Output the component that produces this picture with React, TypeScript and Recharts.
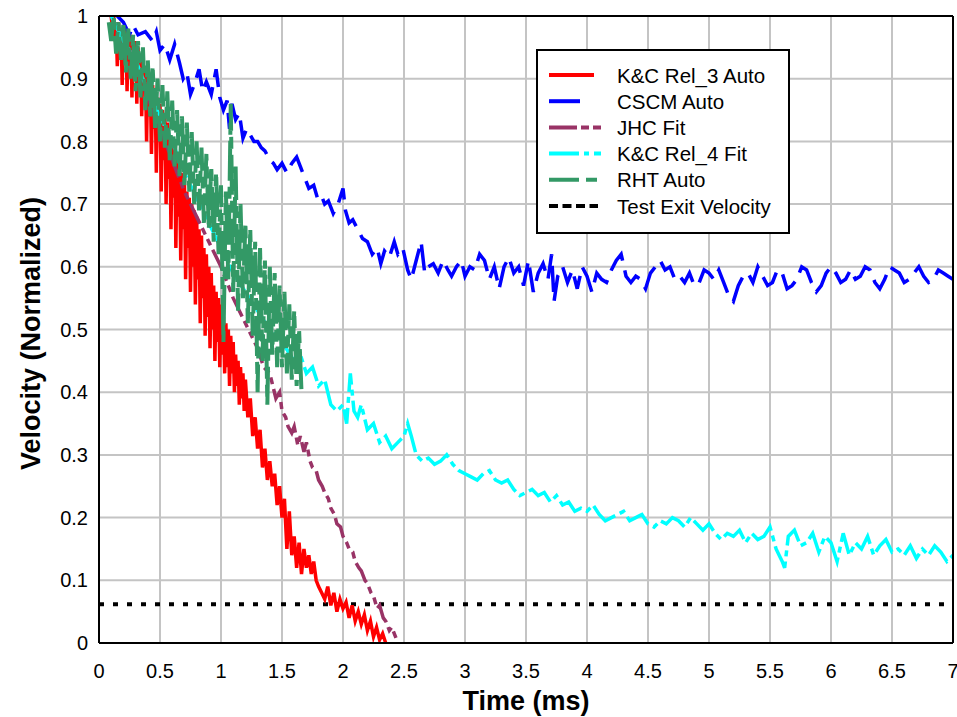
import React from 'react';
import { LineChart, Line, XAxis, YAxis, CartesianGrid, ReferenceLine, Legend } from 'recharts';

// ---------- data ----------
const kc3Time = [0.10,0.11,0.12,0.13,0.14,0.15,0.16,0.17,0.18,0.19,0.20,0.21,0.22,0.23,0.24,0.25,0.26,0.27,0.28,0.29,0.30,0.31,0.32,0.33,0.34,0.35,0.36,0.37,0.38,0.39,0.40,0.41,0.42,0.43,0.44,0.45,0.46,0.47,0.48,0.49,0.50,0.51,0.52,0.53,0.54,0.55,0.56,0.57,0.58,0.59,0.60,0.61,0.62,0.63,0.64,0.65,0.66,0.67,0.68,0.69,0.70,0.71,0.72,0.73,0.74,0.75,0.76,0.77,0.78,0.79,0.80,0.81,0.82,0.83,0.84,0.85,0.86,0.87,0.88,0.89,0.90,0.91,0.92,0.93,0.94,0.95,0.96,0.97,0.98,0.99,1.00,1.01,1.02,1.03,1.04,1.05,1.06,1.07,1.08,1.09,1.10,1.11,1.12,1.13,1.14,1.15,1.16,1.17,1.18,1.19,1.20,1.22,1.24,1.26,1.28,1.30,1.32,1.34,1.36,1.38,1.40,1.42,1.44,1.46,1.48,1.50,1.52,1.54,1.56,1.58,1.60,1.62,1.64,1.66,1.68,1.70,1.72,1.74,1.76,1.78,1.80,1.825,1.85,1.875,1.90,1.925,1.95,1.975,2.00,2.025,2.05,2.075,2.10,2.125,2.15,2.175,2.20,2.225,2.25,2.275,2.30,2.325,2.35];
const kc3Vel = [1.00,0.98,1.00,0.96,0.99,0.92,0.99,0.95,0.98,0.89,0.98,0.93,0.98,0.88,0.97,0.91,0.97,0.87,0.96,0.92,0.96,0.86,0.95,0.90,0.94,0.84,0.93,0.88,0.92,0.80,0.91,0.84,0.90,0.78,0.89,0.82,0.88,0.75,0.87,0.80,0.86,0.72,0.85,0.77,0.84,0.70,0.83,0.74,0.81,0.66,0.80,0.71,0.79,0.63,0.78,0.68,0.76,0.61,0.75,0.66,0.74,0.58,0.72,0.63,0.71,0.56,0.70,0.60,0.69,0.54,0.68,0.58,0.66,0.51,0.65,0.55,0.63,0.49,0.62,0.52,0.60,0.47,0.59,0.50,0.57,0.45,0.56,0.48,0.55,0.44,0.54,0.46,0.52,0.43,0.51,0.44,0.50,0.41,0.49,0.43,0.48,0.40,0.46,0.41,0.45,0.38,0.44,0.39,0.43,0.37,0.42,0.36,0.39,0.33,0.36,0.31,0.34,0.28,0.31,0.26,0.29,0.25,0.27,0.22,0.25,0.20,0.23,0.15,0.21,0.14,0.17,0.12,0.16,0.11,0.15,0.12,0.14,0.11,0.13,0.10,0.09,0.08,0.07,0.09,0.06,0.08,0.05,0.07,0.055,0.065,0.04,0.06,0.035,0.05,0.03,0.045,0.02,0.035,0.01,0.025,0.005,0.015,0.0];

const cscmTime = [0.15,0.20,0.25,0.28,0.32,0.38,0.44,0.47,0.50,0.54,0.58,0.62,0.66,0.69,0.72,0.75,0.78,0.82,0.85,0.88,0.92,0.96,0.99,1.02,1.05,1.07,1.09,1.12,1.15,1.18,1.21,1.24,1.27,1.30,1.33,1.36,1.40,1.43,1.46,1.50,1.54,1.58,1.62,1.65,1.68,1.72,1.76,1.79,1.82,1.85,1.88,1.92,1.96,2.00,2.02,2.05,2.08,2.12,2.16,2.20,2.24,2.28,2.31,2.34,2.38,2.42,2.45,2.49,2.53,2.56,2.60,2.64,2.67,2.70,2.74,2.78,2.82,2.86,2.89,2.93,2.97,3.00,3.04,3.08,3.12,3.16,3.20,3.24,3.28,3.32,3.36,3.40,3.44,3.48,3.52,3.56,3.60,3.64,3.68,3.71,3.73,3.76,3.80,3.84,3.88,3.92,3.96,4.00,4.04,4.08,4.12,4.16,4.20,4.24,4.28,4.32,4.36,4.40,4.44,4.48,4.52,4.56,4.60,4.64,4.68,4.72,4.76,4.80,4.84,4.88,4.92,4.96,5.00,5.04,5.08,5.12,5.16,5.20,5.24,5.28,5.32,5.36,5.40,5.44,5.48,5.52,5.56,5.60,5.64,5.68,5.72,5.76,5.80,5.84,5.88,5.92,5.96,6.00,6.04,6.08,6.12,6.16,6.20,6.24,6.28,6.32,6.36,6.40,6.44,6.48,6.52,6.56,6.60,6.64,6.68,6.72,6.76,6.80,6.84,6.88,6.92,6.96,7.00];
const cscmVel = [1.00,0.99,0.97,0.985,0.97,0.975,0.96,0.975,0.945,0.955,0.93,0.955,0.925,0.90,0.91,0.875,0.89,0.915,0.88,0.895,0.875,0.915,0.87,0.85,0.865,0.82,0.86,0.835,0.845,0.805,0.82,0.81,0.80,0.80,0.79,0.785,0.77,0.765,0.755,0.765,0.75,0.765,0.775,0.76,0.745,0.725,0.73,0.71,0.715,0.70,0.705,0.685,0.70,0.725,0.69,0.67,0.675,0.66,0.645,0.64,0.62,0.63,0.605,0.625,0.615,0.64,0.62,0.63,0.595,0.58,0.61,0.64,0.59,0.60,0.605,0.59,0.61,0.595,0.585,0.60,0.61,0.585,0.60,0.595,0.62,0.61,0.58,0.60,0.565,0.60,0.615,0.59,0.60,0.57,0.61,0.56,0.59,0.605,0.58,0.62,0.545,0.585,0.60,0.575,0.595,0.565,0.60,0.585,0.56,0.59,0.58,0.575,0.595,0.61,0.62,0.585,0.575,0.585,0.58,0.565,0.59,0.60,0.61,0.595,0.60,0.58,0.585,0.575,0.59,0.57,0.575,0.595,0.59,0.58,0.595,0.575,0.555,0.545,0.57,0.585,0.59,0.575,0.60,0.585,0.57,0.575,0.595,0.59,0.565,0.57,0.58,0.60,0.595,0.575,0.56,0.57,0.59,0.60,0.59,0.575,0.58,0.595,0.58,0.585,0.60,0.595,0.575,0.565,0.58,0.60,0.595,0.59,0.575,0.58,0.59,0.60,0.585,0.575,0.58,0.595,0.59,0.585,0.58];

const jhcTime = [0.10,0.20,0.30,0.40,0.50,0.60,0.70,0.80,0.90,1.00,1.10,1.20,1.30,1.35,1.40,1.45,1.48,1.50,1.53,1.55,1.58,1.60,1.63,1.65,1.68,1.70,1.73,1.75,1.78,1.80,1.83,1.85,1.88,1.90,1.93,1.95,1.98,2.00,2.03,2.05,2.08,2.10,2.13,2.15,2.18,2.20,2.23,2.25,2.28,2.30,2.33,2.35,2.38,2.40,2.43,2.45];
const jhcVel = [1.00,0.96,0.92,0.87,0.82,0.77,0.72,0.68,0.64,0.60,0.55,0.51,0.47,0.44,0.43,0.39,0.40,0.37,0.36,0.345,0.335,0.345,0.315,0.33,0.305,0.32,0.29,0.28,0.275,0.26,0.25,0.24,0.23,0.215,0.205,0.19,0.185,0.17,0.16,0.15,0.145,0.13,0.12,0.115,0.10,0.095,0.08,0.075,0.055,0.06,0.04,0.035,0.02,0.025,0.01,0.0];

const kc4Time = [0.10,0.20,0.30,0.40,0.50,0.60,0.70,0.80,0.90,1.00,1.10,1.20,1.30,1.40,1.50,1.60,1.65,1.70,1.75,1.80,1.85,1.90,1.95,2.00,2.03,2.06,2.09,2.12,2.15,2.20,2.25,2.30,2.35,2.40,2.45,2.50,2.53,2.56,2.60,2.65,2.70,2.75,2.80,2.85,2.90,2.95,3.00,3.05,3.10,3.15,3.20,3.25,3.30,3.35,3.40,3.45,3.50,3.55,3.60,3.65,3.70,3.75,3.80,3.85,3.90,3.95,4.00,4.05,4.10,4.15,4.20,4.25,4.30,4.35,4.40,4.45,4.50,4.55,4.60,4.65,4.70,4.75,4.80,4.85,4.90,4.95,5.00,5.05,5.10,5.15,5.20,5.25,5.30,5.35,5.40,5.45,5.50,5.55,5.60,5.62,5.65,5.70,5.75,5.80,5.85,5.90,5.95,6.00,6.05,6.10,6.15,6.20,6.25,6.30,6.35,6.40,6.45,6.50,6.55,6.60,6.65,6.70,6.75,6.80,6.85,6.90,6.95,7.00];
const kc4Vel = [1.00,0.96,0.93,0.88,0.84,0.80,0.75,0.71,0.67,0.63,0.59,0.56,0.53,0.50,0.48,0.45,0.46,0.43,0.44,0.41,0.42,0.38,0.37,0.38,0.35,0.43,0.37,0.36,0.38,0.34,0.35,0.32,0.33,0.31,0.32,0.33,0.35,0.33,0.30,0.29,0.295,0.285,0.29,0.30,0.285,0.275,0.27,0.265,0.26,0.27,0.275,0.26,0.255,0.26,0.245,0.235,0.24,0.245,0.235,0.24,0.225,0.235,0.22,0.225,0.21,0.215,0.21,0.22,0.205,0.195,0.20,0.205,0.21,0.195,0.20,0.205,0.19,0.185,0.195,0.19,0.20,0.195,0.185,0.20,0.19,0.18,0.19,0.175,0.165,0.175,0.17,0.18,0.16,0.175,0.165,0.17,0.185,0.15,0.13,0.12,0.17,0.18,0.155,0.16,0.175,0.145,0.17,0.16,0.13,0.175,0.14,0.16,0.15,0.17,0.14,0.155,0.165,0.145,0.15,0.14,0.155,0.135,0.15,0.14,0.155,0.145,0.13,0.14];

const rhtTime = [0.08,0.10,0.12,0.14,0.16,0.18,0.20,0.22,0.24,0.26,0.28,0.30,0.32,0.34,0.36,0.38,0.40,0.42,0.44,0.46,0.48,0.50,0.52,0.54,0.56,0.58,0.60,0.62,0.64,0.66,0.68,0.70,0.72,0.74,0.76,0.78,0.80,0.82,0.84,0.86,0.88,0.90,0.92,0.94,0.96,0.98,1.00,1.02,1.04,1.06,1.08,1.10,1.12,1.14,1.16,1.18,1.20,1.22,1.24,1.26,1.28,1.30,1.32,1.34,1.36,1.38,1.40,1.42,1.44,1.46,1.48,1.50,1.52,1.54,1.56,1.58,1.60,1.62,1.64,1.66];
const rhtVel = [0.99,0.96,1.00,0.94,0.99,0.93,0.99,0.91,0.98,0.90,0.97,0.88,0.96,0.87,0.95,0.85,0.93,0.84,0.92,0.82,0.90,0.80,0.89,0.79,0.88,0.77,0.865,0.76,0.85,0.745,0.84,0.73,0.83,0.72,0.815,0.70,0.80,0.69,0.79,0.67,0.78,0.66,0.76,0.64,0.75,0.62,0.73,0.48,0.72,0.58,0.86,0.56,0.76,0.53,0.70,0.55,0.67,0.51,0.66,0.49,0.64,0.40,0.63,0.45,0.61,0.38,0.60,0.46,0.59,0.44,0.57,0.44,0.56,0.43,0.54,0.42,0.53,0.41,0.50,0.40];

const exitTime = [0, 7];
const exitVel = [0.062, 0.062];

const xTicks = [0, 0.5, 1, 1.5, 2, 2.5, 3, 3.5, 4, 4.5, 5, 5.5, 6, 6.5, 7];
const yTicks = [0, 0.1, 0.2, 0.3, 0.4, 0.5, 0.6, 0.7, 0.8, 0.9, 1];

const seriesNames = ['K&C Rel_3 Auto', 'CSCM Auto', 'JHC Fit', 'K&C Rel_4 Fit', 'RHT Auto', 'Test Exit Velocity'];

// ---------- helpers ----------
const toPoints = (t: number[], v: number[]) => t.map((x, i) => ({ x, y: v[i] }));

const FONT = '"Liberation Sans", Arial, sans-serif';

const styles = [
  { color: '#ff0000', dash: undefined as string | undefined, legendDash: undefined as string | undefined, legendEnd: 58 },
  { color: '#0000ff', dash: '26 10', legendDash: undefined, legendEnd: 44 },
  { color: '#993366', dash: '22 5 7 5 7 5', legendDash: '28 4 8 4 8', legendEnd: 65 },
  { color: '#00ffff', dash: '30 5 6 5', legendDash: '30 5 5 5 8', legendEnd: 65 },
  { color: '#339966', dash: '40 6 12 6', legendDash: '30 7 11', legendEnd: 61 },
  { color: '#000000', dash: '5 9', legendDash: '9 4.5', legendEnd: 62 },
];

const LegendBox = () => (
  <svg width={254} height={185} style={{ display: 'block' }}>
    <rect x={1} y={1} width={252} height={183} fill="#ffffff" stroke="#000000" strokeWidth={2} />
    {seriesNames.map((name, i) => {
      const cy = 26 + i * 26.2;
      const s = styles[i];
      return (
        <g key={name}>
          <line x1={13} x2={s.legendEnd} y1={cy} y2={cy} stroke={s.color} strokeWidth={4} strokeDasharray={s.legendDash} />
          <text x={81} y={cy} dominantBaseline="central" fontSize={20.5} fontFamily={FONT} fill="#000">{name}</text>
        </g>
      );
    })}
  </svg>
);

const XTitle = (props: any) => {
  const vb = props.viewBox || {};
  return (
    <text x={vb.x + vb.width / 2} y={710} textAnchor="middle" fontSize={27} fontWeight="bold" fontFamily={FONT} fill="#000">Time (ms)</text>
  );
};

const YTitle = (props: any) => {
  const vb = props.viewBox || {};
  const cx = 31;
  const cy = vb.y + vb.height / 2 + 4;
  return (
    <text x={cx} y={cy} transform={`rotate(-90 ${cx} ${cy})`} textAnchor="middle" dominantBaseline="central" fontSize={27} fontWeight="bold" fontFamily={FONT} fill="#000">Velocity (Normalized)</text>
  );
};

export default function App() {
  const sets = [
    toPoints(kc3Time, kc3Vel),
    toPoints(cscmTime, cscmVel),
    toPoints(jhcTime, jhcVel),
    toPoints(kc4Time, kc4Vel),
    toPoints(rhtTime, rhtVel),
    toPoints(exitTime, exitVel),
  ];
  return (
    <div style={{ position: 'absolute', left: 0, top: 0, width: 957, height: 717, background: '#fff' }}>
      <LineChart width={957} height={717} margin={{ top: 16, right: 4, left: 0, bottom: 0 }}>
        <CartesianGrid stroke="#c4c4c4" strokeWidth={2} />
        <XAxis
          type="number"
          dataKey="x"
          domain={[0, 7]}
          ticks={xTicks}
          interval={0}
          allowDataOverflow
          height={74}
          tickLine={false}
          tickSize={6}
          tickMargin={15}
          axisLine={{ stroke: '#000', strokeWidth: 2 }}
          tick={{ fontSize: 20, fill: '#000', fontFamily: FONT }}
          label={<XTitle />}
        />
        <YAxis
          type="number"
          domain={[0, 1]}
          ticks={yTicks}
          interval={0}
          allowDataOverflow
          width={99}
          tickLine={false}
          tickSize={6}
          tickMargin={5}
          axisLine={{ stroke: '#000', strokeWidth: 2 }}
          tick={{ fontSize: 20, fill: '#000', fontFamily: FONT }}
          label={<YTitle />}
        />
        <Line data={sets[5]} dataKey="y" name={seriesNames[5]} stroke={styles[5].color} strokeWidth={4} strokeDasharray={styles[5].dash} dot={false} activeDot={false} isAnimationActive={false} />
        <Line data={sets[0]} dataKey="y" name={seriesNames[0]} stroke={styles[0].color} strokeWidth={3.5} dot={false} activeDot={false} isAnimationActive={false} />
        <Line data={sets[1]} dataKey="y" name={seriesNames[1]} stroke={styles[1].color} strokeWidth={3.5} strokeDasharray={styles[1].dash} dot={false} activeDot={false} isAnimationActive={false} />
        <Line data={sets[2]} dataKey="y" name={seriesNames[2]} stroke={styles[2].color} strokeWidth={3.5} strokeDasharray={styles[2].dash} dot={false} activeDot={false} isAnimationActive={false} />
        <Line data={sets[3]} dataKey="y" name={seriesNames[3]} stroke={styles[3].color} strokeWidth={3.5} strokeDasharray={styles[3].dash} dot={false} activeDot={false} isAnimationActive={false} />
        <Line data={sets[4]} dataKey="y" name={seriesNames[4]} stroke={styles[4].color} strokeWidth={4} strokeDasharray={styles[4].dash} dot={false} activeDot={false} isAnimationActive={false} />
        <ReferenceLine y={1} stroke="#000" strokeWidth={2} />
        <ReferenceLine x={7} stroke="#000" strokeWidth={2} />
        <Legend
          layout="vertical"
          align="center"
          verticalAlign="middle"
          content={<LegendBox />}
          wrapperStyle={{ left: 536, top: 49, width: 254, height: 185 }}
        />
      </LineChart>
    </div>
  );
}
